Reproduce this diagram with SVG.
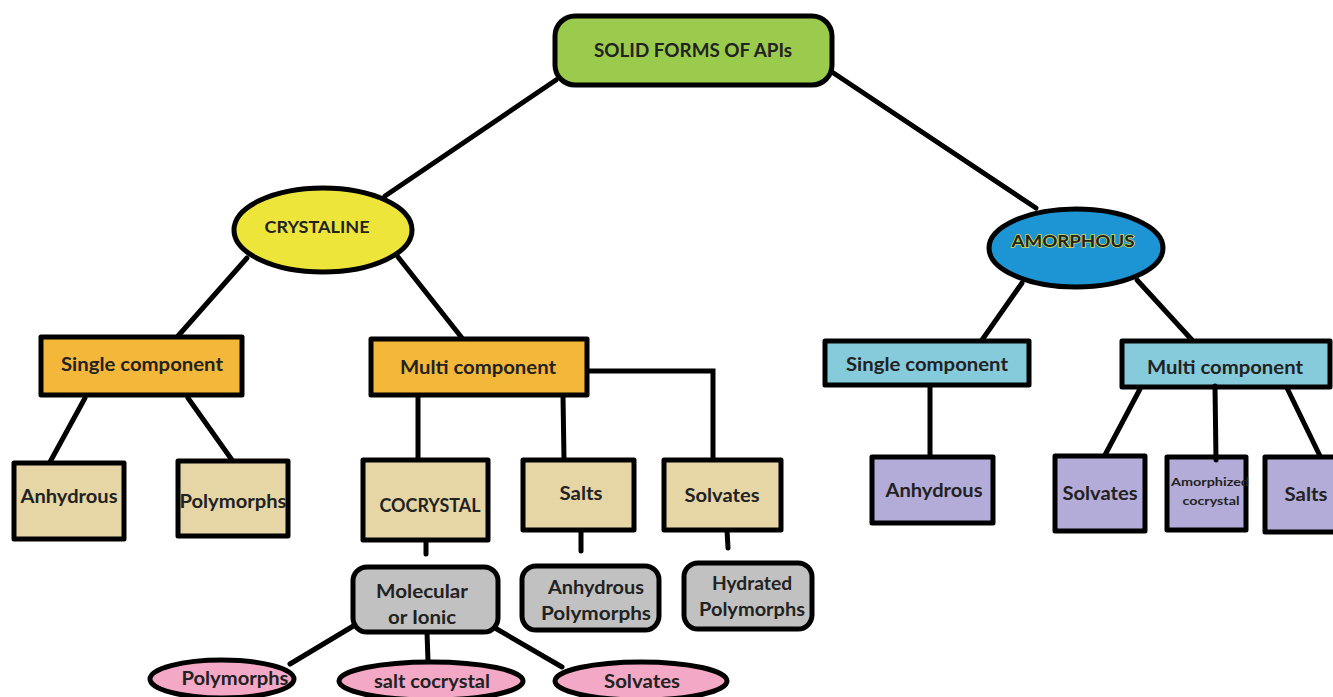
<svg xmlns="http://www.w3.org/2000/svg" width="1333" height="697" viewBox="0 0 1333 697">
<style>
.n{stroke:#000;stroke-width:5;stroke-linejoin:round}
.t{font-family:Lato,"Liberation Sans",sans-serif;font-weight:bold;fill:#222;text-anchor:middle;dominant-baseline:central}
.c line,.c polyline{stroke:#000;stroke-width:5;fill:none;stroke-linecap:round}
.root{fill:#9bcb4c}.yel{fill:#eee53b}.blu{fill:#1d95d5}.ora{fill:#f3b83a}.tan{fill:#e6d6a6}.gry{fill:#c1c1c1}.pnk{fill:#f3a9c5}.lbl{fill:#86cbdb}.lav{fill:#b4acd8}
</style>
<rect width="1333" height="697" fill="#fff"/>
<g class="c" id="connectors">
<line x1="556" y1="80" x2="385" y2="196"/>
<line x1="832" y1="72" x2="1036" y2="208"/>
<line x1="247" y1="258" x2="178" y2="336"/>
<line x1="398" y1="257" x2="462" y2="338"/>
<line x1="85" y1="398" x2="50" y2="462"/>
<line x1="188" y1="398" x2="232" y2="460"/>
<line x1="418" y1="396" x2="418" y2="459"/>
<line x1="563" y1="396" x2="564" y2="459"/>
<polyline points="588,371 713,371 713,460"/>
<line x1="426" y1="540" x2="426" y2="554"/>
<line x1="581" y1="530" x2="581" y2="551"/>
<line x1="727" y1="530" x2="728" y2="548"/>
<line x1="355" y1="625" x2="290" y2="664"/>
<line x1="427" y1="632" x2="428" y2="661"/>
<line x1="495" y1="628" x2="562" y2="667"/>
<line x1="1022" y1="283" x2="982" y2="340"/>
<line x1="1137" y1="280" x2="1192" y2="340"/>
<line x1="930" y1="386" x2="930" y2="456"/>
<line x1="1140" y1="389" x2="1105" y2="455"/>
<line x1="1287" y1="388" x2="1320" y2="456"/>
</g>
<g id="root"><rect class="n root" x="555" y="16" width="277" height="69" rx="20"/><text class="t" x="693" y="50" font-size="18" textLength="198" lengthAdjust="spacingAndGlyphs">SOLID FORMS OF APIs</text></g>
<g id="crystaline"><ellipse class="n yel" cx="323" cy="230" rx="89" ry="42"/><text class="t" x="317" y="226" font-size="17" textLength="105" lengthAdjust="spacingAndGlyphs">CRYSTALINE</text></g>
<g id="amorphous"><ellipse class="n blu" cx="1076" cy="248" rx="87" ry="39"/><text class="t" x="1073" y="240" font-size="17" textLength="123" lengthAdjust="spacingAndGlyphs" style="stroke:#d8d84a;stroke-width:1.5;paint-order:stroke">AMORPHOUS</text></g>
<g id="c-single"><rect class="n ora" x="41" y="337" width="201" height="58"/><text class="t" x="142" y="364" font-size="18" textLength="162" lengthAdjust="spacingAndGlyphs">Single component</text></g>
<g id="c-multi"><rect class="n ora" x="371" y="339" width="216" height="56"/><text class="t" x="478" y="367" font-size="18" textLength="156" lengthAdjust="spacingAndGlyphs">Multi component</text></g>
<g id="c-anhydrous"><rect class="n tan" x="14" y="463" width="110" height="76"/><text class="t" x="69" y="496" font-size="18" textLength="97" lengthAdjust="spacingAndGlyphs">Anhydrous</text></g>
<g id="c-polymorphs"><rect class="n tan" x="178" y="461" width="110" height="75"/><text class="t" x="233" y="501" font-size="18" textLength="107" lengthAdjust="spacingAndGlyphs">Polymorphs</text></g>
<g id="cocrystal"><rect class="n tan" x="363" y="460" width="125" height="80"/><text class="t" x="430" y="505" font-size="18" textLength="101" lengthAdjust="spacingAndGlyphs">COCRYSTAL</text></g>
<g id="salts"><rect class="n tan" x="523" y="460" width="111" height="70"/><text class="t" x="581" y="493" font-size="18" textLength="43" lengthAdjust="spacingAndGlyphs">Salts</text></g>
<g id="solvates"><rect class="n tan" x="664" y="460" width="117" height="70"/><text class="t" x="722" y="495" font-size="18" textLength="75" lengthAdjust="spacingAndGlyphs">Solvates</text></g>
<g id="molecular"><rect class="n gry" x="353" y="567" width="145" height="65" rx="14"/><text class="t" x="422" y="591" font-size="18" textLength="92" lengthAdjust="spacingAndGlyphs">Molecular</text><text class="t" x="422" y="617" font-size="18" textLength="68" lengthAdjust="spacingAndGlyphs">or Ionic</text></g>
<g id="anhydrous-poly"><rect class="n gry" x="522" y="566" width="137" height="64" rx="14"/><text class="t" x="596" y="587" font-size="18" textLength="96" lengthAdjust="spacingAndGlyphs">Anhydrous</text><text class="t" x="596" y="613" font-size="18" textLength="110" lengthAdjust="spacingAndGlyphs">Polymorphs</text></g>
<g id="hydrated-poly"><rect class="n gry" x="684" y="563" width="128" height="66" rx="14"/><text class="t" x="752" y="583" font-size="18" textLength="80" lengthAdjust="spacingAndGlyphs">Hydrated</text><text class="t" x="752" y="609" font-size="18" textLength="106" lengthAdjust="spacingAndGlyphs">Polymorphs</text></g>
<g id="p-polymorphs"><ellipse class="n pnk" cx="222" cy="679" rx="72" ry="19"/><text class="t" x="235" y="678" font-size="18" textLength="107" lengthAdjust="spacingAndGlyphs">Polymorphs</text></g>
<g id="p-salt"><ellipse class="n pnk" cx="431" cy="681" rx="92" ry="19"/><text class="t" x="432" y="681" font-size="18" textLength="116" lengthAdjust="spacingAndGlyphs">salt cocrystal</text></g>
<g id="p-solvates"><ellipse class="n pnk" cx="641" cy="681" rx="86" ry="19"/><text class="t" x="642" y="681" font-size="18" textLength="76" lengthAdjust="spacingAndGlyphs">Solvates</text></g>
<g id="a-single"><rect class="n lbl" x="825" y="341" width="204" height="44"/><text class="t" x="927" y="364" font-size="18" textLength="162" lengthAdjust="spacingAndGlyphs">Single component</text></g>
<g id="a-multi"><rect class="n lbl" x="1122" y="341" width="208" height="46"/><text class="t" x="1225" y="367" font-size="18" textLength="156" lengthAdjust="spacingAndGlyphs">Multi component</text></g>
<g id="a-anhydrous"><rect class="n lav" x="872" y="457" width="121" height="66"/><text class="t" x="934" y="490" font-size="18" textLength="97" lengthAdjust="spacingAndGlyphs">Anhydrous</text></g>
<g id="a-solvates"><rect class="n lav" x="1055" y="456" width="90" height="75"/><text class="t" x="1100" y="493" font-size="18" textLength="75" lengthAdjust="spacingAndGlyphs">Solvates</text></g>
<g id="a-amorphized"><rect class="n lav" x="1167" y="457" width="79" height="73"/><text class="t" x="1210" y="481" font-size="12" textLength="78" lengthAdjust="spacingAndGlyphs">Amorphized</text><text class="t" x="1211" y="500" font-size="12" textLength="57" lengthAdjust="spacingAndGlyphs">cocrystal</text></g>
<g id="a-salts"><rect class="n lav" x="1265" y="457" width="72" height="75"/><text class="t" x="1306" y="494" font-size="18" textLength="43" lengthAdjust="spacingAndGlyphs">Salts</text></g>
<g class="c"><line x1="1215" y1="386" x2="1216" y2="460"/></g>
</svg>
